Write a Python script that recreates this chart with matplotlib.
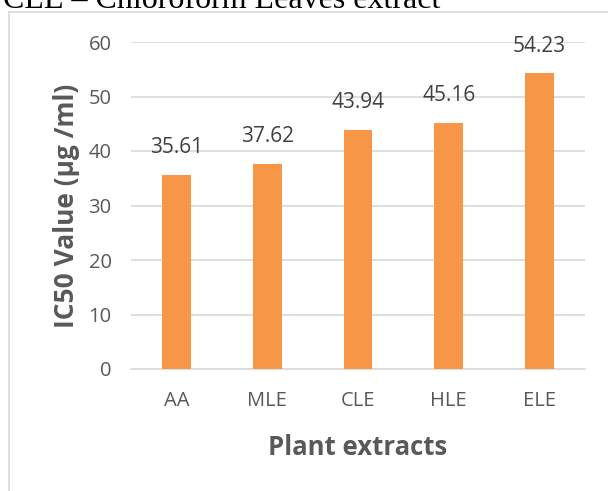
import matplotlib.pyplot as plt
from matplotlib.lines import Line2D

extracts = ['AA', 'MLE', 'CLE', 'HLE', 'ELE']
ic50 = [35.61, 37.62, 43.94, 45.16, 54.23]
y_ticks = [0, 10, 20, 30, 40, 50, 60]

bar_color = '#F79646'
text_grey = '#595959'
grid_grey = '#D9D9D9'

plt.rcParams['font.family'] = ['Open Sans', 'DejaVu Sans']

W, H = 608, 491
fig = plt.figure(figsize=(W / 100, H / 100), dpi=100)
ax = fig.add_axes([131 / W, 1 - 369 / H, 454 / W, 327 / H])

bars = ax.bar(extracts, ic50, width=0.315, color=bar_color, zorder=3)
ax.set_xlim(-0.5, len(extracts) - 0.5)
ax.set_ylim(0, 60)
ax.set_yticks(y_ticks)

ax.grid(axis='y', color=grid_grey, linewidth=1.2, zorder=0)
for side in ['top', 'right', 'left']:
    ax.spines[side].set_visible(False)
ax.spines['bottom'].set_color(grid_grey)
ax.spines['bottom'].set_linewidth(1.2)
ax.tick_params(axis='both', length=0, labelsize=14.5, labelcolor=text_grey)
ax.tick_params(axis='y', pad=14)
ax.tick_params(axis='x', pad=15.5)

ax.set_xlabel('Plant extracts', fontsize=18.5, fontweight='bold',
              color=text_grey, labelpad=17)
ax.set_ylabel('IC50 Value (µg /ml)', fontsize=19, fontweight='bold',
              color=text_grey, labelpad=6)

# value labels above the bars
for bar in bars:
    h = bar.get_height()
    ax.annotate('{0:.2f}'.format(h),
                xy=(bar.get_x() + bar.get_width() / 2, h),
                xytext=(0, 15.5), textcoords='offset points',
                ha='center', va='baseline', fontsize=15, color='#404040')

# chart frame (only top and left edges fall inside the image)
fx, fy = 8.5 / W, 1 - 12 / H
fig.add_artist(Line2D([fx, 1], [fy, fy], color=grid_grey, linewidth=1.2))
fig.add_artist(Line2D([fx, fx], [0, fy], color=grid_grey, linewidth=1.2))

# caption line of the surrounding document
fig.text(3 / W, 1 - 8.5 / H, 'CLE \u2013 Chloroform Leaves extract',
         family='Liberation Serif', fontsize=23, color='black',
         ha='left', va='baseline')

fig.savefig('out.png', dpi=100, facecolor='white')
